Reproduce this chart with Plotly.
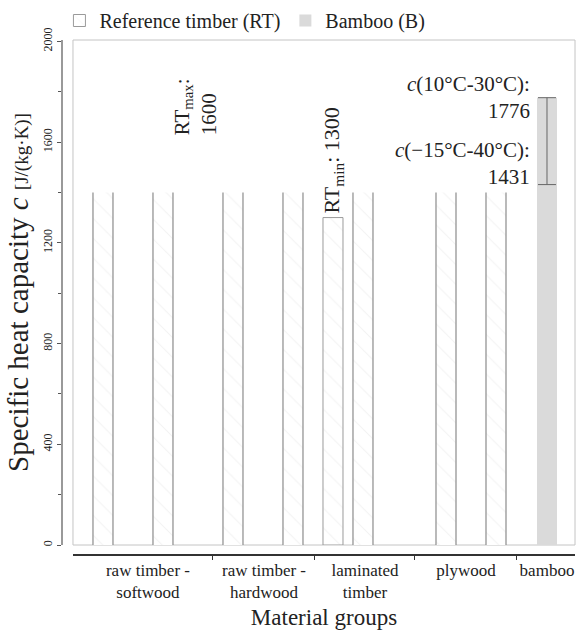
import plotly.graph_objects as go

# ---- data ----
rt_pos = [3.0, 9.0, 16.0, 22.0, 29.0, 37.3, 42.3]
rt_c = [1400, 1400, 1400, 1400, 1400, 1400, 1400]
rt_min_pos = [26.0]
rt_min_c = [1300]
rt_max_c = 1600
bamboo_pos = [47.4]
bamboo_c = [1776]
bamboo_low = [1431]
group_labels = ["raw timber -<br>softwood", "raw timber -<br>hardwood",
                "laminated<br>timber", "plywood", "bamboo"]
group_centers = [7.5, 19.1, 29.2, 39.3, 47.4]
group_bounds = [14.0, 24.2, 34.2, 44.4]
y_ticks = [0, 400, 800, 1200, 1600, 2000]
bar_w = 2.0

FONT = "Liberation Serif"
pattern = dict(shape="\\", fgcolor="#e6e6e6", bgcolor="white", size=14, solidity=0.08)

fig = go.Figure()

# reference timber bars (no outline; edges drawn separately)
fig.add_trace(go.Bar(x=rt_pos, y=rt_c, width=bar_w, showlegend=False,
                     marker=dict(color="white", line=dict(width=0), pattern=pattern),
                     hoverinfo="skip"))
# RT minimum bar with outline (legend entry)
fig.add_trace(go.Bar(x=rt_min_pos, y=rt_min_c, width=bar_w, name="Reference timber (RT)",
                     marker=dict(color="white", line=dict(width=1, color="#9a9a9a"),
                                 pattern=pattern)))
# bamboo bar with range
fig.add_trace(go.Bar(x=bamboo_pos, y=bamboo_c, width=bar_w, name="Bamboo (B)",
                     marker=dict(color="#dadada", line=dict(width=0)),
                     error_y=dict(type="data", symmetric=False,
                                  array=[0 for _ in bamboo_c],
                                  arrayminus=[c - l for c, l in zip(bamboo_c, bamboo_low)],
                                  color="#666", thickness=1, width=9)))

# vertical edges of RT bars
ex, ey = [], []
for p, c in zip(rt_pos, rt_c):
    for e in (p - bar_w / 2, p + bar_w / 2):
        ex += [e, e, None]
        ey += [0, c, None]
fig.add_trace(go.Scatter(x=ex, y=ey, mode="lines", line=dict(color="#8c8c8c", width=1.2),
                         showlegend=False, hoverinfo="skip"))

# carrier for group-boundary ticks
fig.add_trace(go.Scatter(x=group_bounds, y=[0 for _ in group_bounds], xaxis="x2",
                         mode="markers", marker=dict(opacity=0), showlegend=False,
                         hoverinfo="skip"))

ann_font = dict(family=FONT, size=21, color="#222")
fig.add_annotation(x=12.2, y=1742, text=f"RT<sub>max</sub>:<br>{rt_max_c}", textangle=-90,
                   showarrow=False, align="left", font=ann_font)
fig.add_annotation(x=rt_min_pos[0], y=rt_min_c[0], text=f"RT<sub>min</sub>: {rt_min_c[0]}",
                   textangle=-90, showarrow=False, yanchor="bottom", yshift=2,
                   font=dict(family=FONT, size=22, color="#222"))
fig.add_annotation(x=45.9, y=bamboo_c[0], text=f"<i>c</i>(10°C-30°C):<br>{bamboo_c[0]}",
                   showarrow=False, xanchor="right", yanchor="middle", align="right",
                   font=ann_font)
fig.add_annotation(x=45.9, y=bamboo_low[0], text=f"<i>c</i>(\u221215°C-40°C):<br>{bamboo_low[0]}",
                   showarrow=False, xanchor="right", yanchor="bottom", yshift=-6, align="right",
                   font=ann_font)

# plot frame
fig.add_shape(type="rect", xref="x domain", yref="y domain", x0=0, x1=1, y0=0, y1=1,
              line=dict(color="#c4c4c4", width=1), layer="below")

fig.update_layout(
    width=576, height=630,
    margin=dict(l=62, r=1, t=40, b=75),
    paper_bgcolor="white", plot_bgcolor="white",
    font=dict(family=FONT, color="#222"),
    barmode="overlay",
    showlegend=True,
    legend=dict(orientation="h", x=-0.005, xanchor="left", y=1.0, yanchor="bottom",
                font=dict(family=FONT, size=20), bgcolor="rgba(0,0,0,0)",
                itemwidth=30, tracegroupgap=0),
    xaxis=dict(domain=[0.0214, 1], range=[0, 50.2], anchor="free", position=0,
               showline=True, linecolor="#333", linewidth=1.5,
               tickmode="array", tickvals=group_centers, ticktext=group_labels,
               ticks="", tickfont=dict(family=FONT, size=17),
               showgrid=False, zeroline=False,
               title=dict(text="Material groups", font=dict(family=FONT, size=23), standoff=8)),
    xaxis2=dict(overlaying="x", range=[0, 50.2], anchor="free", position=0,
                tickmode="array", tickvals=group_bounds, ticks="outside", ticklen=4,
                tickcolor="#333", showticklabels=False, showline=False,
                showgrid=False, zeroline=False),
    yaxis=dict(domain=[0.0194, 1], range=[0, 2005], anchor="free", position=0,
               showline=True, linecolor="#999", linewidth=1.5,
               tickmode="array", tickvals=y_ticks, ticks="outside", ticklen=4,
               tickcolor="#555", tickangle=-90, tickfont=dict(family=FONT, size=12),
               minor=dict(dtick=200, ticks="outside", ticklen=3, tickcolor="#555"),
               showgrid=False, zeroline=False,
               title=dict(text="Specific heat capacity <i>c</i> "
                               "<span style='font-size:19px'>[J/(kg·K)]</span>",
                          font=dict(family=FONT, size=29), standoff=3)),
)

fig.write_html("out.html")
